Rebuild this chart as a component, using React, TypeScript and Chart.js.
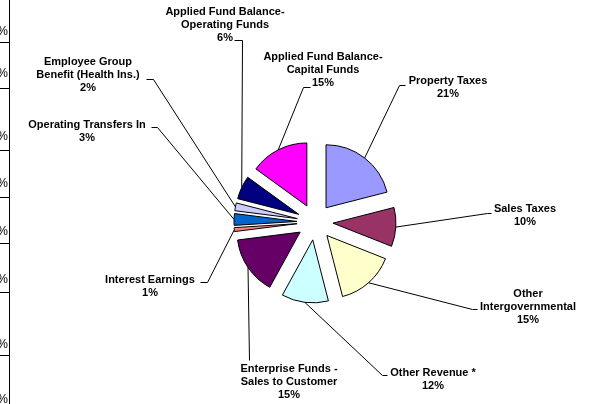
import React, { useEffect, useRef } from 'react';
import { Chart, registerables } from 'chart.js';

Chart.register(...registerables);

// ---- data ----
const categories: string[][] = [
  ['Property Taxes'],
  ['Sales Taxes'],
  ['Other', 'Intergovernmental'],
  ['Other Revenue *'],
  ['Enterprise Funds -', 'Sales to Customer'],
  ['Interest Earnings'],
  ['Operating Transfers In'],
  ['Employee Group', 'Benefit (Health Ins.)'],
  ['Applied Fund Balance-', 'Operating Funds'],
  ['Applied Fund Balance-', 'Capital Funds'],
];
const shares: number[] = [21, 10, 15, 12, 15, 1, 3, 2, 6, 15];
const sliceColors: string[] = [
  '#9999FF', '#993366', '#FFFFCC', '#CCFFFF', '#660066',
  '#FF8080', '#0066CC', '#CCCCFF', '#000080', '#FF00FF',
];
// fragment of a neighbouring table visible at the left edge
const edgeCellText: string[] = ['%', '%', '%', '%', '%', '%', '%', '%'];

// ---- layout (positions only) ----
const EXPLODE = 18;
const LINE_H = 13;
const labelLayout: { cx: number; top: number; path: number[][] }[] = [
  { cx: 448, top: 81, path: [[399, 85], [405, 85]] },
  { cx: 525, top: 209, path: [[487, 213], [491, 213]] },
  { cx: 528, top: 294, path: [[472, 309], [477, 309]] },
  { cx: 433, top: 373, path: [[382, 375], [387, 375]] },
  { cx: 289, top: 369, path: [[249, 360]] },
  { cx: 150, top: 280, path: [[207, 282], [200, 282]] },
  { cx: 87, top: 125, path: [[157, 127], [151, 127]] },
  { cx: 88, top: 62, path: [[153, 79], [146, 79]] },
  { cx: 225, top: 12, path: [[242, 40], [234, 40]] },
  { cx: 323, top: 57, path: [[303, 87], [310, 87]] },
];
const edgeTextY = [32, 74, 137, 184, 232, 280, 345, 400];
const edgeRuleY = [42, 88, 150, 197, 243, 292, 355];

const FONT = 'bold 11px "Liberation Sans", Arial, sans-serif';

const explodedPie = {
  id: 'explodedPie',
  beforeDatasetDraw(chart: any, args: any) {
    const ctx = chart.ctx;
    args.meta.data.forEach((arc: any) => {
      const mid = (arc.startAngle + arc.endAngle) / 2;
      ctx.save();
      ctx.translate(Math.cos(mid) * EXPLODE, Math.sin(mid) * EXPLODE);
      arc.draw(ctx);
      ctx.restore();
    });
    return false;
  },
  afterDatasetsDraw(chart: any) {
    const ctx = chart.ctx;
    const meta = chart.getDatasetMeta(0);
    ctx.save();
    ctx.strokeStyle = '#000';
    ctx.lineWidth = 1;
    ctx.fillStyle = '#000';
    ctx.font = FONT;
    ctx.textAlign = 'center';
    ctx.textBaseline = 'middle';
    meta.data.forEach((arc: any, i: number) => {
      const mid = (arc.startAngle + arc.endAngle) / 2;
      const r = arc.outerRadius + EXPLODE;
      const sx = arc.x + Math.cos(mid) * r;
      const sy = arc.y + Math.sin(mid) * r;
      const lay = labelLayout[i];
      ctx.beginPath();
      ctx.moveTo(sx, sy);
      lay.path.forEach(([x, y]) => ctx.lineTo(x + 0.5, y + 0.5));
      ctx.stroke();
      const lines = [...categories[i], `${shares[i]}%`];
      lines.forEach((t, k) => ctx.fillText(t, lay.cx, lay.top + k * LINE_H));
    });

    // left edge table fragment
    ctx.beginPath();
    ctx.moveTo(9.5, 0);
    ctx.lineTo(9.5, chart.height);
    edgeRuleY.forEach((y) => {
      ctx.moveTo(0, y + 0.5);
      ctx.lineTo(9.5, y + 0.5);
    });
    ctx.stroke();
    ctx.font = '12px "Liberation Sans", Arial, sans-serif';
    ctx.textAlign = 'right';
    edgeCellText.forEach((t, k) => ctx.fillText(t, 8, edgeTextY[k]));
    ctx.restore();
  },
};

export default function App() {
  const ref = useRef<HTMLCanvasElement | null>(null);
  useEffect(() => {
    if (!ref.current) return;
    const chart = new Chart(ref.current, {
      type: 'pie',
      data: {
        labels: categories,
        datasets: [
          {
            data: shares,
            backgroundColor: sliceColors,
            borderColor: '#000',
            borderWidth: 1,
            offset: 0,
          },
        ],
      },
      options: {
        responsive: false,
        animation: false,
        events: [],
        layout: { padding: { left: 215, right: 174, top: 158.5, bottom: 118.5 } },
        plugins: {
          legend: { display: false },
          tooltip: { enabled: false },
          title: { display: false },
        },
      },
      plugins: [explodedPie],
    });
    return () => chart.destroy();
  }, []);
  return (
    <div style={{ position: 'fixed', left: 0, top: 0, width: 589, height: 404, background: '#fff' }}>
      <canvas ref={ref} width={589} height={404} />
    </div>
  );
}
